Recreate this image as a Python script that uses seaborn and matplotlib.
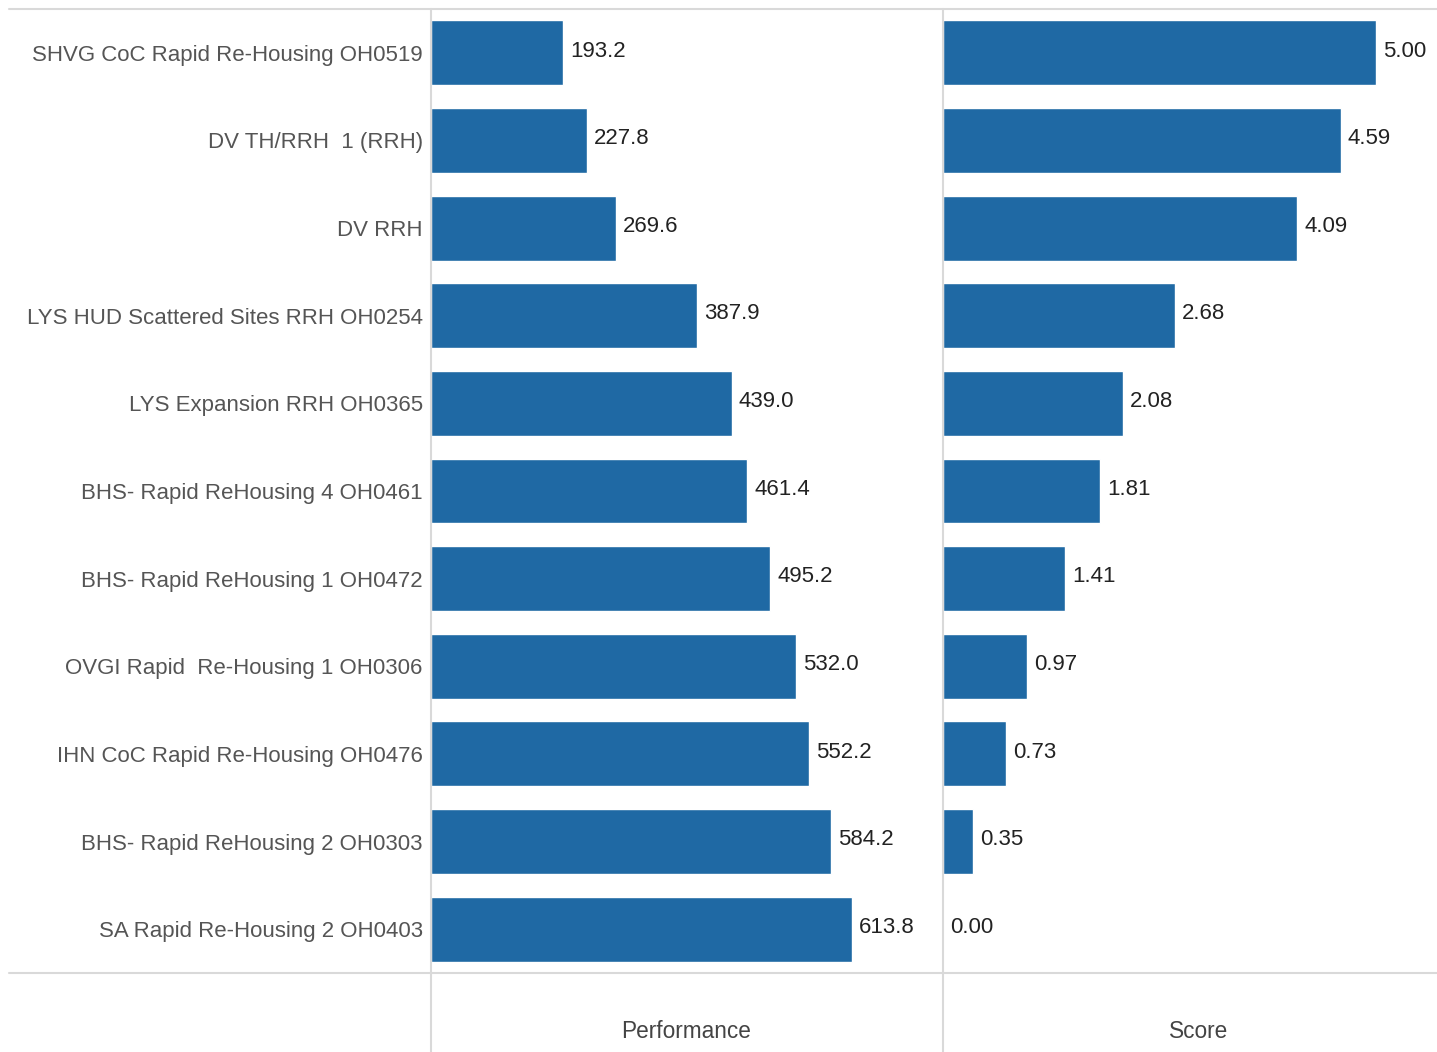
import seaborn as sns
import matplotlib.pyplot as plt
from matplotlib.lines import Line2D
import pandas as pd

projects = ["SHVG CoC Rapid Re-Housing OH0519", "DV TH/RRH  1 (RRH)", "DV RRH",
            "LYS HUD Scattered Sites RRH OH0254", "LYS Expansion RRH OH0365",
            "BHS- Rapid ReHousing 4 OH0461", "BHS- Rapid ReHousing 1 OH0472",
            "OVGI Rapid  Re-Housing 1 OH0306", "IHN CoC Rapid Re-Housing OH0476",
            "BHS- Rapid ReHousing 2 OH0303", "SA Rapid Re-Housing 2 OH0403"]
performance = [193.2, 227.8, 269.6, 387.9, 439.0, 461.4, 495.2, 532.0, 552.2, 584.2, 613.8]
score = [5.00, 4.59, 4.09, 2.68, 2.08, 1.81, 1.41, 0.97, 0.73, 0.35, 0.00]

df = pd.DataFrame({"project": projects, "Performance": performance, "Score": score})

sns.set_style("white")
plt.rcParams['font.family'] = ['Liberation Sans', 'DejaVu Sans']

W, H = 1437, 1052
fig = plt.figure(figsize=(W / 100, H / 100), dpi=100)
bar_color = "#1f69a4"
grid_color = "#d9d9d9"

y0 = 1 - 973 / H
y1 = 1 - 9 / H
ax1 = fig.add_axes([431 / W, y0, (943 - 431) / W, y1 - y0])
ax2 = fig.add_axes([943 / W, y0, (W - 943) / W, y1 - y0])

sns.barplot(data=df, y="project", x="Performance", orient="h", color=bar_color,
            width=0.74, saturation=1, ax=ax1)
sns.barplot(data=df, y="project", x="Score", orient="h", color=bar_color,
            width=0.74, saturation=1, ax=ax2)

ax1.set_xlim(0, 747)
ax2.set_xlim(0, 5.70)
for ax, vals, fmt in [(ax1, performance, "{:.1f}"), (ax2, score, "{:.2f}")]:
    ax.set_ylim(10.5, -0.5)
    ax.set_xlabel("")
    ax.set_ylabel("")
    ax.set_xticks([])
    for s in ax.spines.values():
        s.set_visible(False)
    for i, v in enumerate(vals):
        ax.annotate(fmt.format(v), (v, i - 0.02), xytext=(5, 0), textcoords="offset points",
                    va="center", ha="left", fontsize=16, color="#222222")

ax1.tick_params(axis="y", length=0, pad=6, labelsize=16, labelcolor="#555555")
ax2.set_yticks([])

# frame lines in figure coordinates
for yy in (y0, y1):
    fig.add_artist(Line2D([9 / W, 1], [yy, yy], color=grid_color, lw=1.5))
for xx in (431 / W, 943 / W):
    fig.add_artist(Line2D([xx, xx], [0, y1], color=grid_color, lw=1.5))

fig.text(686 / W, 1 - 1032 / H, "Performance", ha="center", va="center",
         fontsize=16.3, color="#444444")
fig.text(1199 / W, 1 - 1032 / H, "Score", ha="center", va="center",
         fontsize=16.3, color="#444444")

fig.savefig("out.png", dpi=100)
